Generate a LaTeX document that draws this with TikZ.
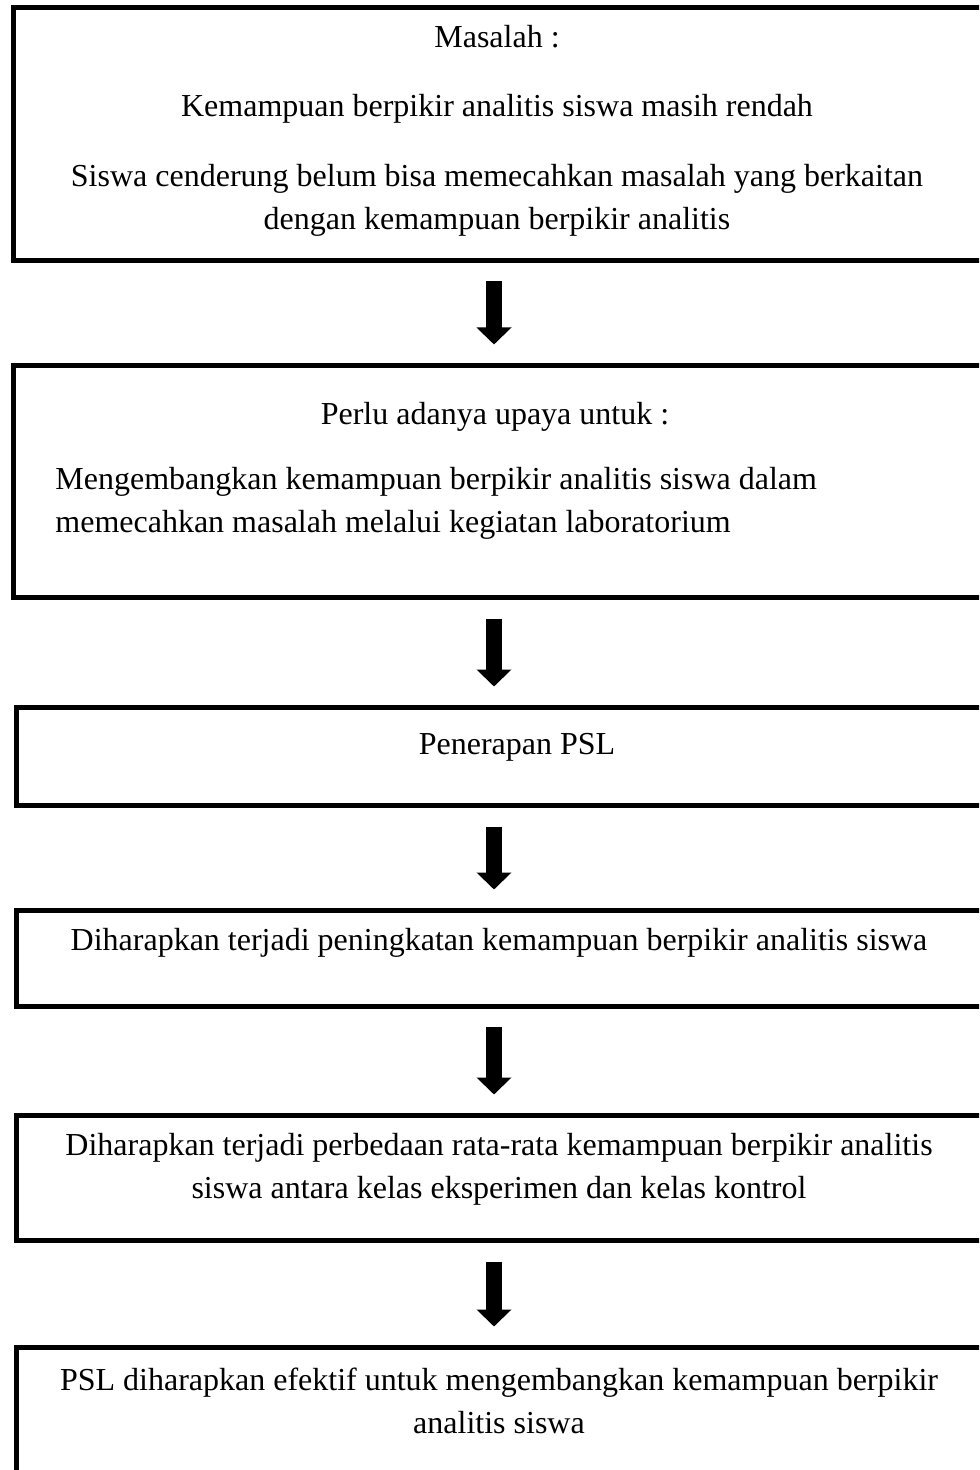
\documentclass[tikz,border=0pt]{standalone}
\usepackage{fontspec}
\setmainfont{Liberation Serif}
\usetikzlibrary{calc,positioning,arrows.meta,fit}
\tikzstyle{box} = [draw, rectangle, line width=2.5pt,
    inner sep=0pt, outer sep=0pt]
\tikzstyle{txt} = [inner sep=0pt, anchor=base]
\tikzstyle{flow} = [line width=8pt, -{Triangle[width=17pt,length=8.5pt]},
    shorten <=10.5pt, shorten >=10.5pt]

\begin{document}
\begin{tikzpicture}[x=0.5pt, y=-0.5pt, font=\fontsize{16pt}{21.5pt}\selectfont]
\useasboundingbox (0,0) rectangle (979,1470);
\clip (0,0) rectangle (979,1470);

% boxes
\node (b1) [box, fit={(13.5,7.5) (990,260.5)}] {};
\node (b2) [box, fit={(13.5,365.5) (990,597.5)}] {};
\node (b3) [box, fit={(16.5,707.5) (990,805.5)}] {};
\node (b4) [box, fit={(16.5,910.5) (990,1006)}] {};
\node (b5) [box, fit={(16.5,1115.5) (990,1240.5)}] {};
\node (b6) [box, fit={(16.5,1347.5) (990,1490)}] {};

% texts
\node (m1) [txt] at (497,48) {Masalah :};
\node (m2) [txt] at (497,117) {Kemampuan berpikir analitis siswa masih rendah};
\node (m3) [txt] at (497,187) {Siswa cenderung belum bisa memecahkan masalah yang berkaitan};
\node (m4) [txt] at (497,230) {dengan kemampuan berpikir analitis};

\node (u1) [txt] at (495,424) {Perlu adanya upaya untuk :};
\node (u2) [txt, anchor=base west] at (55,489) {Mengembangkan kemampuan berpikir analitis siswa dalam};
\node (u3) [txt, anchor=base west] at (55,532) {memecahkan masalah melalui kegiatan laboratorium};

\node (p1) [txt] at (517,754) {Penerapan PSL};

\node (h1) [txt] at (499,950) {Diharapkan terjadi peningkatan kemampuan berpikir analitis siswa};

\node (d1) [txt] at (499,1155) {Diharapkan terjadi perbedaan rata-rata kemampuan berpikir analitis};
\node (d2) [txt] at (499,1198) {siswa antara kelas eksperimen dan kelas kontrol};

\node (e1) [txt] at (499,1390) {PSL diharapkan efektif untuk mengembangkan kemampuan berpikir};
\node (e2) [txt] at (499,1433) {analitis siswa};

% arrows
\coordinate (ax) at (494,0);
\draw[flow] (b1.south -| ax) -- (b2.north -| ax);
\draw[flow] (b2.south -| ax) -- (b3.north -| ax);
\draw[flow] (b3.south -| ax) -- (b4.north -| ax);
\draw[flow] (b4.south -| ax) -- (b5.north -| ax);
\draw[flow] (b5.south -| ax) -- (b6.north -| ax);

\end{tikzpicture}
\end{document}
